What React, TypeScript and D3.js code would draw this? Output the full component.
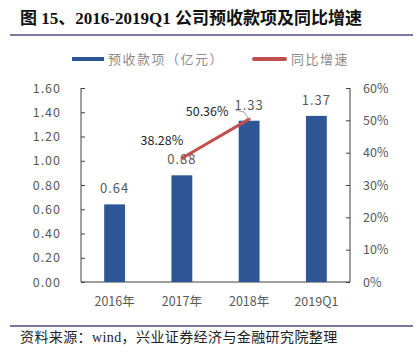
import { useEffect, useRef } from "react";
import * as d3 from "d3";

const categories = ["2016年", "2017年", "2018年", "2019Q1"];
const amounts = [0.64, 0.88, 1.33, 1.37];
const growth: (number | null)[] = [null, 38.28, 50.36, null];
const leftTicks = [0, 0.2, 0.4, 0.6, 0.8, 1.0, 1.2, 1.4, 1.6];
const rightTicks = [0, 10, 20, 30, 40, 50, 60];

const W = 419,
  H = 359;
const BLUE = "#2e5596";
const RED = "#c0504d";
const GREY = "#595959";
const CJK = "'Noto Sans CJK SC', sans-serif";
const SERIF = "'Liberation Serif', 'Noto Sans CJK SC', serif";

export default function App() {
  const ref = useRef<SVGSVGElement>(null);

  useEffect(() => {
    const svg = d3.select(ref.current);
    svg.selectAll("*").remove();

    const left = 81,
      right = 350,
      top = 88,
      bottom = 282;

    const x = d3.scaleBand().domain(categories).range([left, right]).paddingInner(0.69).paddingOuter(0.345);
    const y = d3.scaleLinear().domain([0, 1.6]).range([bottom, top]);
    const y2 = d3.scaleLinear().domain([0, 60]).range([bottom, top]);

    // title
    svg
      .append("text")
      .attr("x", 20)
      .attr("y", 24)
      .attr("font-family", SERIF)
      .attr("font-weight", "bold")
      .attr("font-size", 17)
      .attr("fill", "#111")
      .text("图 15、2016-2019Q1 公司预收款项及同比增速");
    svg.append("line").attr("x1", 10).attr("x2", 413).attr("y1", 35).attr("y2", 35).attr("stroke", "#4b4b7c").attr("stroke-width", 1.5);

    // legend
    const lg = svg.append("g").attr("font-family", CJK).attr("font-size", 13).attr("letter-spacing", 1.5);
    lg.append("rect").attr("x", 72).attr("y", 57).attr("width", 32).attr("height", 4).attr("fill", BLUE);
    lg.append("text").attr("x", 108).attr("y", 64).attr("fill", "#8c8c8c").text("预收款项（亿元）");
    lg.append("rect").attr("x", 252).attr("y", 57).attr("width", 35).attr("height", 4).attr("rx", 2).attr("fill", RED);
    lg.append("text").attr("x", 291).attr("y", 64).attr("fill", "#8c8c8c").text("同比增速");

    // axes
    const la = svg
      .append("g")
      .attr("transform", `translate(${left},0)`)
      .call(
        d3
          .axisLeft(y)
          .tickValues(leftTicks)
          .tickSize(-4)
          .tickPadding(20)
          .tickFormat((d) => d3.format(".2f")(d as number))
      );
    const ra = svg
      .append("g")
      .attr("transform", `translate(${right},0)`)
      .call(
        d3
          .axisRight(y2)
          .tickValues(rightTicks)
          .tickSize(-4)
          .tickPadding(13)
          .tickFormat((d) => `${d}%`)
      );
    [la, ra].forEach((g) => {
      g.selectAll(".domain").attr("stroke", "#404040").attr("d", `M0,${top}V${bottom}`);
      g.selectAll(".tick line").attr("stroke", "#404040");
      g.selectAll("text").attr("font-family", CJK).attr("font-size", 12.5).attr("fill", GREY).attr("letter-spacing", g === la ? 1 : 0);
    });
    svg.append("line").attr("x1", left).attr("x2", right).attr("y1", bottom).attr("y2", bottom).attr("stroke", "#404040");

    // x labels
    svg
      .append("g")
      .selectAll("text")
      .data(categories)
      .join("text")
      .attr("x", (d) => x(d)! + x.bandwidth() / 2)
      .attr("y", 306)
      .attr("text-anchor", "middle")
      .attr("font-family", CJK)
      .attr("font-size", 12.5)
      .attr("fill", GREY)
      .text((d) => d);

    // bars
    svg
      .append("g")
      .selectAll("rect")
      .data(amounts)
      .join("rect")
      .attr("x", (_, i) => x(categories[i])!)
      .attr("width", x.bandwidth())
      .attr("y", (d) => y(d))
      .attr("height", (d) => bottom - y(d))
      .attr("fill", BLUE);

    // bar labels
    svg
      .append("g")
      .selectAll("text")
      .data(amounts)
      .join("text")
      .attr("x", (_, i) => x(categories[i])! + x.bandwidth() / 2)
      .attr("y", (d) => y(d) - 11)
      .attr("text-anchor", "middle")
      .attr("font-family", CJK)
      .attr("font-size", 13)
      .attr("letter-spacing", 1)
      .attr("fill", GREY)
      .text((d) => d.toFixed(2));

    // growth line
    const pts = growth
      .map((g, i) => ({ g, c: categories[i] }))
      .filter((p) => p.g !== null) as { g: number; c: string }[];
    const line = d3
      .line<{ g: number; c: string }>()
      .x((d) => x(d.c)! + x.bandwidth() / 2)
      .y((d) => y2(d.g));
    svg
      .append("path")
      .datum(pts)
      .attr("d", line)
      .attr("fill", "none")
      .attr("stroke", RED)
      .attr("stroke-width", 3)
      .attr("stroke-linecap", "round");

    // leader line for 1.33 label
    const lx = x(categories[2])! + x.bandwidth() / 2;
    const ly = y2(pts[1].g);
    svg
      .append("path")
      .attr("d", `M${lx - 13},${ly - 9}L${lx - 5},${ly - 7}L${lx},${ly}`)
      .attr("fill", "none")
      .attr("stroke", "#a6a6a6")
      .attr("stroke-width", 1);

    // growth labels
    const offsets = [
      { dx: -20, dy: -13 },
      { dx: -42, dy: -3 },
    ];
    svg
      .append("g")
      .selectAll("text")
      .data(pts)
      .join("text")
      .attr("x", (d, i) => x(d.c)! + x.bandwidth() / 2 + offsets[i].dx)
      .attr("y", (d, i) => y2(d.g) + offsets[i].dy)
      .attr("text-anchor", "middle")
      .attr("font-family", CJK)
      .attr("font-size", 12.5)
      .attr("fill", "#262626")
      .text((d) => `${d.g.toFixed(2)}%`);

    // footer
    svg.append("line").attr("x1", 10).attr("x2", 413).attr("y1", 326).attr("y2", 326).attr("stroke", "#4b4b7c").attr("stroke-width", 1.5);
    svg
      .append("text")
      .attr("x", 20)
      .attr("y", 342)
      .attr("font-family", SERIF)
      .attr("font-size", 14)
      .attr("letter-spacing", 0.4)
      .attr("fill", "#222")
      .text("资料来源：wind，兴业证券经济与金融研究院整理");
  }, []);

  return <svg ref={ref} width={W} height={H} style={{ position: "absolute", left: 0, top: 0, background: "#fff" }} />;
}
